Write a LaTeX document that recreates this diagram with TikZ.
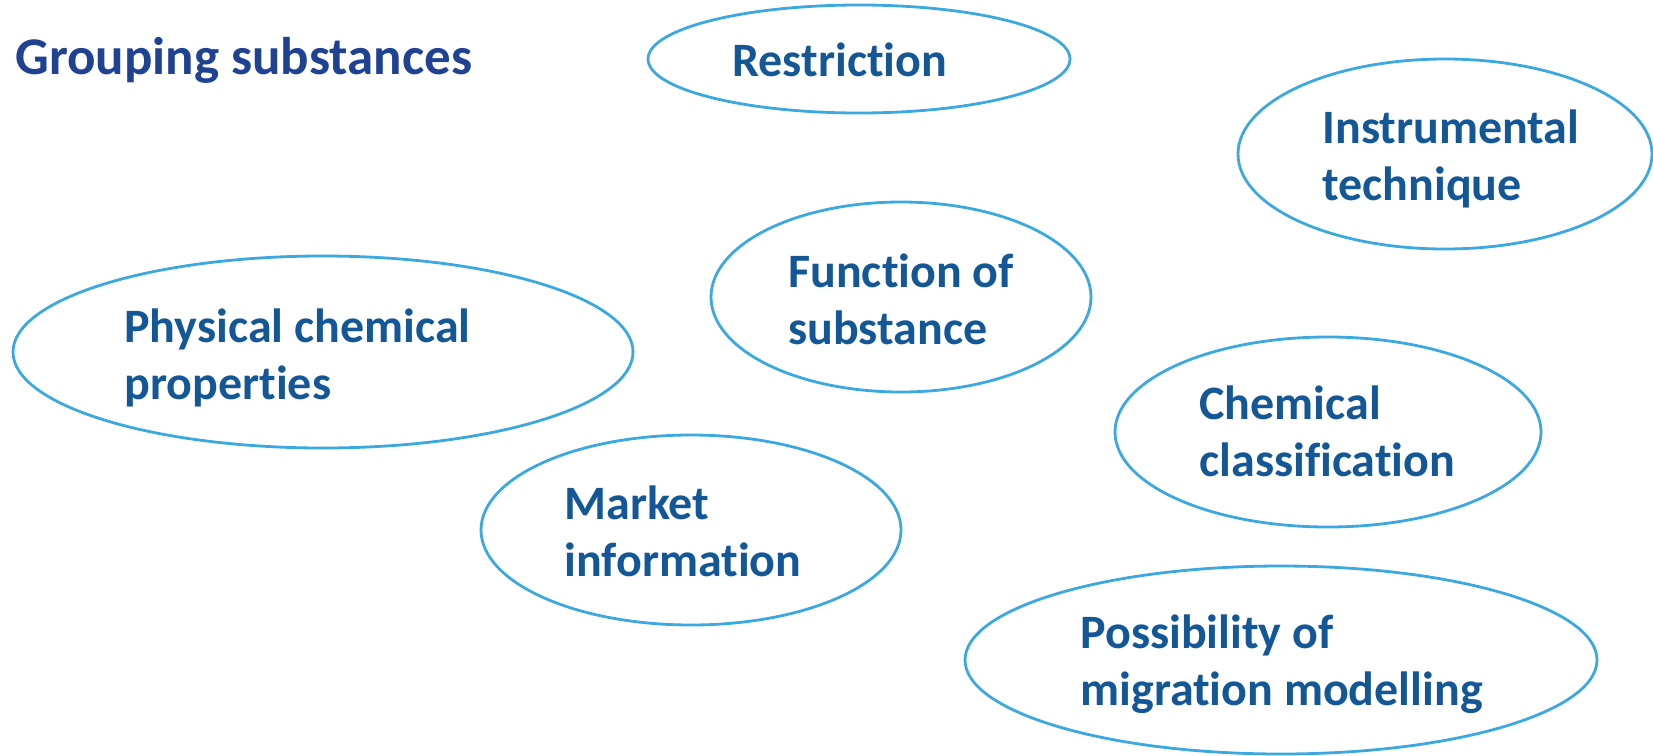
\documentclass[tikz,border=0pt]{standalone}
\usepackage{fontspec}
\setmainfont{Carlito}[Ligatures={NoCommon}]
\usepackage{tikz}
\usetikzlibrary{shapes.geometric}
\definecolor{ringblue}{RGB}{59,168,224}
\definecolor{textblue}{RGB}{20,87,150}
\definecolor{titleblue}{RGB}{31,66,146}

\begin{document}
\begin{tikzpicture}[
    x=0.5pt, y=-0.5pt,
    bubble/.style = {
      shape=ellipse,
      draw=ringblue,
      line width=1.4pt,
      inner sep=0pt
    },
    topic/.style = {
      anchor=base west,
      align=left,
      inner sep=0pt,
      text=textblue,
      font=\fontsize{24}{28.5}\selectfont\bfseries
    }
  ]
    \useasboundingbox (0,0) rectangle (1653,755);
    \node[topic, text=titleblue, font=\fontsize{26.5}{32}\selectfont\bfseries]
      (title) at (15,74) {Grouping substances};

    % Top row
    \node[bubble, minimum width=211pt, minimum height=54pt] (restr) at (859,59) {};
    \node[topic] (restrtext) at (732,76) {Restriction};
    \node[bubble, minimum width=207pt, minimum height=95pt] (instr) at (1445,154) {};
    \node[topic] (instrtext) at (1322,200) {Instrumental \\ technique};

    % Middle row
    \node[bubble, minimum width=310pt, minimum height=96pt] (phys) at (323,352) {};
    \node[topic] (phystext) at (124,399) {Physical chemical \\ properties};
    \node[bubble, minimum width=190pt, minimum height=95pt] (func) at (901,297) {};
    \node[topic] (functext) at (788,344) {Function of \\ substance};
    \node[bubble, minimum width=213pt, minimum height=95pt] (chem) at (1328,432) {};
    \node[topic] (chemtext) at (1199,476) {Chemical \\ classification};

    % Bottom row
    \node[bubble, minimum width=210pt, minimum height=95pt] (market) at (691,530) {};
    \node[topic] (markettext) at (564,576) {Market \\ information};
    \node[bubble, minimum width=316pt, minimum height=94pt] (poss) at (1281,660) {};
    \node[topic] (posstext) at (1080,705) {Possibility of \\ migration modelling};
  \end{tikzpicture}
\end{document}
